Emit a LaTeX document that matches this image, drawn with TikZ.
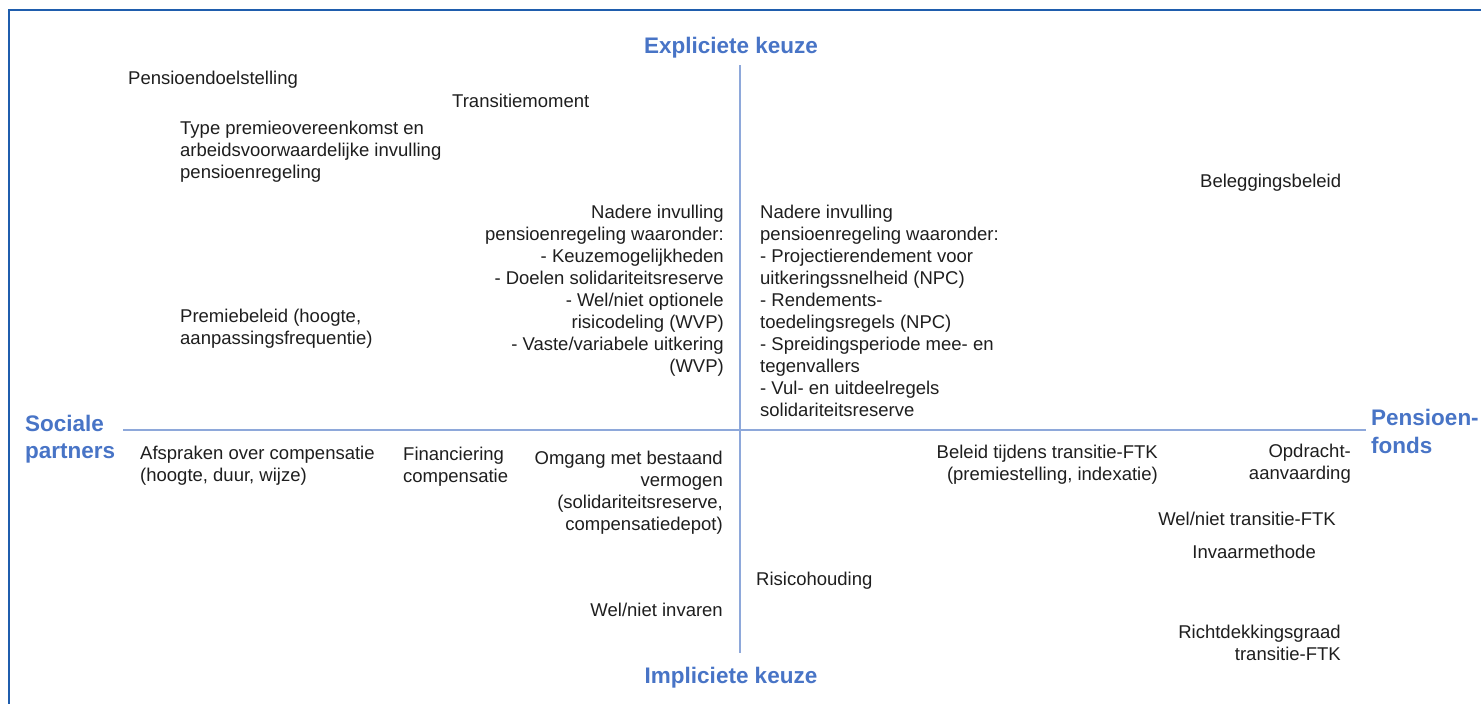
\documentclass[tikz,border=0pt]{standalone}
\usepackage{fontspec}
\setmainfont{Liberation Sans}
\definecolor{frameblue}{HTML}{1F5DAD}
\definecolor{axisblue}{HTML}{8EA8DA}
\definecolor{labelblue}{HTML}{4874C6}
\definecolor{txtgray}{HTML}{1E1E1E}
\begin{document}
\begin{tikzpicture}[x=1pt,y=-1pt,
  txt/.style={inner sep=0pt, font=\fontsize{18.5}{22}\selectfont, text=txtgray},
  lbl/.style={inner sep=0pt, font=\fontsize{22.5}{27.5}\selectfont\bfseries, text=labelblue},
  axis/.style={draw=axisblue, line width=1.8pt}]
\useasboundingbox (0,0) rectangle (1481,704);
\begin{scope}
\clip (0,0) rectangle (1481,704);
\draw[frameblue, line width=2pt] (9,10) rectangle (1500,720);
\end{scope}
% axes
\coordinate (vt) at (740,65);
\coordinate (vb) at (740,653);
\coordinate (hl) at (123,430);
\coordinate (hr) at (1366,430);
\draw[axis] (vt) -- (vb);
\draw[axis] (hl) -- (hr);
% axis labels (multi-line nodes: base = baseline of last line)
\node[lbl, anchor=base] (exp) at (731,53) {Expliciete keuze};
\node[lbl, anchor=base] (imp) at (731,683) {Impliciete keuze};
\node[lbl, anchor=base west, align=left] (soc) at (25,458.5) {Sociale\\partners};
\node[lbl, anchor=base west, align=left] (pen) at (1371,453) {Pensioen-\\fonds};
% texts
\node[txt, anchor=base west] (pd) at (128,84) {Pensioendoelstelling};
\node[txt, anchor=base west] (tm) at (452,107) {Transitiemoment};
\node[txt, anchor=base west, align=left] (type) at (180,178) {Type premieovereenkomst en\\arbeidsvoorwaardelijke invulling\\pensioenregeling};
\node[txt, anchor=base west] (bb) at (1200,187) {Beleggingsbeleid};
\node[txt, anchor=base east, align=right] (nl) at (724,372) {Nadere invulling\\pensioenregeling waaronder:\\- Keuzemogelijkheden\\- Doelen solidariteitsreserve\\- Wel/niet optionele\\risicodeling (WVP)\\- Vaste/variabele uitkering\\(WVP)};
\node[txt, anchor=base west, align=left] (nr) at (760,416) {Nadere invulling\\pensioenregeling waaronder:\\- Projectierendement voor\\uitkeringssnelheid (NPC)\\- Rendements-\\toedelingsregels (NPC)\\- Spreidingsperiode mee- en\\tegenvallers\\- Vul- en uitdeelregels\\solidariteitsreserve};
\node[txt, anchor=base west, align=left] (pb) at (180,344) {Premiebeleid (hoogte,\\aanpassingsfrequentie)};
\node[txt, anchor=base west, align=left] (afs) at (140,481) {Afspraken over compensatie\\(hoogte, duur, wijze)};
\node[txt, anchor=base west, align=left] (fin) at (403,482) {Financiering\\compensatie};
\node[txt, anchor=base east, align=right] (omg) at (723,530) {Omgang met bestaand\\vermogen\\(solidariteitsreserve,\\compensatiedepot)};
\node[txt, anchor=base east, align=right] (bel) at (1158,480) {Beleid tijdens transitie-FTK\\(premiestelling, indexatie)};
\node[txt, anchor=base east, align=right] (opd) at (1351,479) {Opdracht-\\aanvaarding};
\node[txt, anchor=base east] (wnt) at (1336,525) {Wel/niet transitie-FTK};
\node[txt, anchor=base east] (inv) at (1316,558) {Invaarmethode};
\node[txt, anchor=base west] (ris) at (756,585) {Risicohouding};
\node[txt, anchor=base east] (wni) at (723,616) {Wel/niet invaren};
\node[txt, anchor=base east, align=right] (rdg) at (1341,660) {Richtdekkingsgraad\\transitie-FTK};
\end{tikzpicture}
\end{document}
